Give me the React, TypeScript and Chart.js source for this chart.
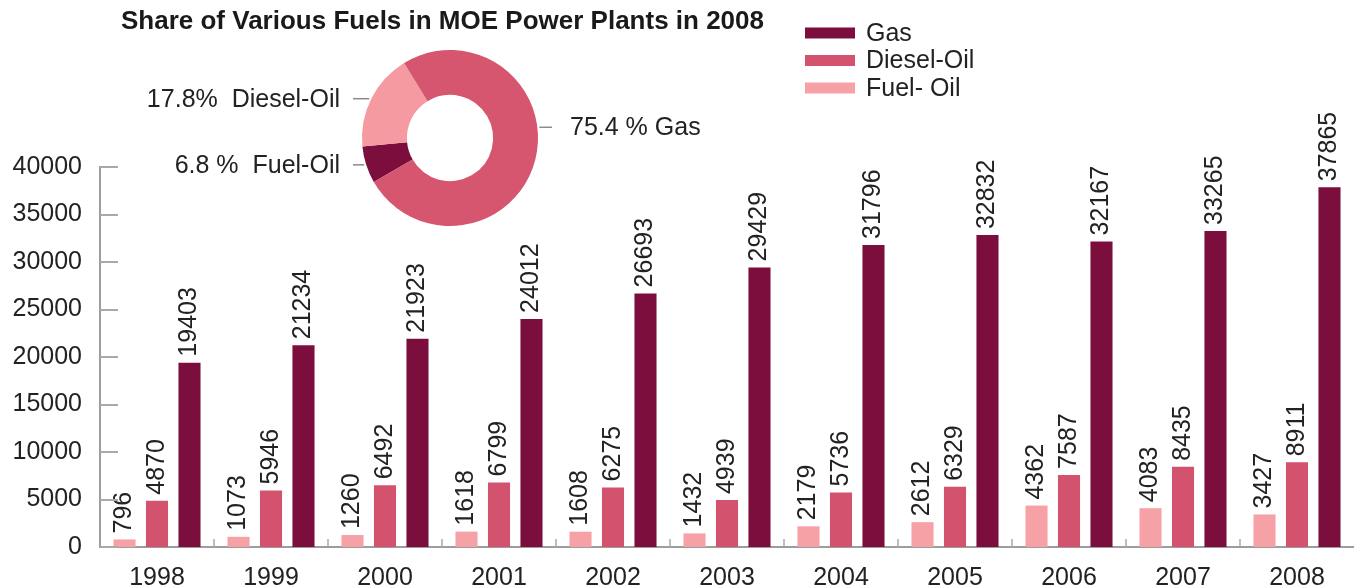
import React, { useEffect, useRef } from 'react';
import { Chart, registerables } from 'chart.js';

Chart.register(...registerables);

// ---------- data ----------
const years = ['1998', '1999', '2000', '2001', '2002', '2003', '2004', '2005', '2006', '2007', '2008'];
const fuelOil = [796, 1073, 1260, 1618, 1608, 1432, 2179, 2612, 4362, 4083, 3427];
const dieselOil = [4870, 5946, 6492, 6799, 6275, 4939, 5736, 6329, 7587, 8435, 8911];
const gas = [19403, 21234, 21923, 24012, 26693, 29429, 31796, 32832, 32167, 33265, 37865];
const seriesNames = ['Fuel- Oil', 'Diesel-Oil', 'Gas'];
const yMin = 0;
const yMax = 40000;
const yStep = 5000;

const pieTitle = 'Share of Various Fuels in MOE Power Plants in 2008';
const pieNames = ['Fuel-Oil', 'Diesel-Oil', 'Gas'];
const pieShares = [6.8, 17.8, 75.4];
const pieLabels = ['6.8 %  Fuel-Oil', '17.8%  Diesel-Oil', '75.4 % Gas'];

// ---------- styles ----------
const FONT = '"Liberation Sans", Arial, Helvetica, sans-serif';
const TEXT = '#222222';
const GAS_C = '#7c0e3e';
const DIESEL_C = '#d3526d';
const FUEL_C = '#f5a1a6';
const PIE_COLORS = ['#7c0e3e', '#f59aa0', '#d6566f'];
const W = 1354;
const H = 587;

const innerTicks = {
  id: 'innerTicks',
  afterDraw(chart: any) {
    const { ctx, chartArea, scales } = chart;
    const xs = scales.x;
    const ys = scales.y;
    ctx.save();
    ctx.strokeStyle = '#a9a9a9';
    ctx.lineWidth = 2;
    ys.ticks.forEach((t: any) => {
      const py = Math.round(ys.getPixelForValue(t.value));
      ctx.beginPath();
      ctx.moveTo(chartArea.left, py);
      ctx.lineTo(chartArea.left + 18, py);
      ctx.stroke();
    });
    const n = xs.ticks.length;
    const bounds: number[] = [];
    for (let i = 1; i < n; i++) {
      bounds.push((xs.getPixelForValue(i - 1) + xs.getPixelForValue(i)) / 2);
    }
    ctx.lineWidth = 1.5;
    bounds.forEach((px) => {
      ctx.beginPath();
      ctx.moveTo(Math.round(px), chartArea.bottom);
      ctx.lineTo(Math.round(px), chartArea.bottom - 8);
      ctx.stroke();
    });
    ctx.restore();
  },
};

const valueLabels = {
  id: 'valueLabels',
  afterDatasetsDraw(chart: any) {
    const { ctx } = chart;
    ctx.save();
    ctx.font = `25px ${FONT}`;
    ctx.fillStyle = TEXT;
    ctx.textAlign = 'left';
    ctx.textBaseline = 'middle';
    chart.data.datasets.forEach((ds: any, di: number) => {
      const meta = chart.getDatasetMeta(di);
      meta.data.forEach((el: any, i: number) => {
        ctx.save();
        ctx.translate(el.x, el.y - 6);
        ctx.rotate(-Math.PI / 2);
        ctx.fillText(String(ds.data[i]), 0, 0);
        ctx.restore();
      });
    });
    ctx.restore();
  },
};

const sideLegend = {
  id: 'sideLegend',
  afterDraw(chart: any) {
    const { ctx } = chart;
    const dsets = chart.data.datasets;
    ctx.save();
    ctx.font = `25px ${FONT}`;
    ctx.textAlign = 'left';
    ctx.textBaseline = 'middle';
    for (let r = 0; r < dsets.length; r++) {
      const ds = dsets[dsets.length - 1 - r];
      const cy = 33 + r * 27.5;
      ctx.fillStyle = ds.backgroundColor;
      ctx.fillRect(805, cy - 5.5, 50, 11);
      ctx.fillStyle = TEXT;
      ctx.fillText(ds.label, 866, cy + 1);
    }
    ctx.restore();
  },
};

const pieDecor = {
  id: 'pieDecor',
  afterDraw(chart: any) {
    const { ctx } = chart;
    const meta = chart.getDatasetMeta(0);
    const anchorOverride: (number | null)[] = [null, null, -7];
    ctx.save();
    ctx.font = `bold 26px ${FONT}`;
    ctx.fillStyle = '#1a1a1a';
    ctx.textAlign = 'left';
    ctx.textBaseline = 'middle';
    ctx.fillText(pieTitle, 121, 22);

    ctx.font = `25px ${FONT}`;
    ctx.fillStyle = TEXT;
    ctx.strokeStyle = '#8a8a8a';
    ctx.lineWidth = 1.5;
    meta.data.forEach((arc: any, i: number) => {
      const ov = anchorOverride[i];
      const ang = ov === null ? (arc.startAngle + arc.endAngle) / 2 : (ov * Math.PI) / 180;
      const ax = arc.x + Math.cos(ang) * arc.outerRadius;
      const ay = arc.y + Math.sin(ang) * arc.outerRadius;
      const right = Math.cos(ang) > 0;
      ctx.beginPath();
      if (right) {
        ctx.moveTo(ax + 2, ay);
        ctx.lineTo(arc.x + 102, ay);
      } else {
        ctx.moveTo(ax - 2, ay);
        ctx.lineTo(arc.x - 97, ay);
      }
      ctx.stroke();
      ctx.textAlign = right ? 'left' : 'right';
      ctx.fillText(pieLabels[i], right ? arc.x + 120 : arc.x - 110, ay + 1);
    });
    ctx.restore();
  },
};

export default function App() {
  const barRef = useRef<HTMLCanvasElement>(null);
  const pieRef = useRef<HTMLCanvasElement>(null);

  useEffect(() => {
    const bar = new Chart(barRef.current as HTMLCanvasElement, {
      type: 'bar',
      data: {
        labels: years,
        datasets: [
          { label: seriesNames[0], data: fuelOil, backgroundColor: FUEL_C },
          { label: seriesNames[1], data: dieselOil, backgroundColor: DIESEL_C },
          { label: seriesNames[2], data: gas, backgroundColor: GAS_C },
        ],
      },
      options: {
        animation: false,
        responsive: false,
        devicePixelRatio: 1,
        layout: { padding: { top: 167, right: 0, left: 0, bottom: 0 } },
        datasets: { bar: { categoryPercentage: 0.855, barPercentage: 0.68 } },
        plugins: { legend: { display: false }, tooltip: { enabled: false }, title: { display: false } },
        scales: {
          x: {
            grid: { display: false, drawTicks: false },
            border: { display: true, color: '#9d9d9d', width: 2 },
            ticks: { font: { family: FONT, size: 25 }, color: TEXT, padding: 16, maxRotation: 0 },
            afterFit: (s: any) => { s.height = 40; },
          },
          y: {
            min: yMin,
            max: yMax,
            grid: { display: false, drawTicks: false },
            border: { display: true, color: '#9d9d9d', width: 2 },
            ticks: {
              stepSize: yStep,
              font: { family: FONT, size: 25 },
              color: TEXT,
              padding: 18,
              callback: (v: any) => String(v),
            },
            afterFit: (s: any) => { s.width = 100; },
          },
        },
      } as any,
      plugins: [innerTicks, valueLabels, sideLegend],
    });

    const pie = new Chart(pieRef.current as HTMLCanvasElement, {
      type: 'doughnut',
      data: {
        labels: pieNames,
        datasets: [{ data: pieShares, backgroundColor: PIE_COLORS, borderWidth: 0 }],
      },
      options: {
        animation: false,
        responsive: false,
        devicePixelRatio: 1,
        rotation: 240,
        cutout: '49%',
        layout: { padding: { left: 362, right: W - 538, top: 50, bottom: H - 226 } },
        plugins: { legend: { display: false }, tooltip: { enabled: false } },
      } as any,
      plugins: [pieDecor],
    });

    return () => {
      bar.destroy();
      pie.destroy();
    };
  }, []);

  return (
    <div style={{ position: 'absolute', left: 0, top: 0, width: W, height: H, background: '#fff' }}>
      <canvas ref={barRef} width={W} height={H} style={{ position: 'absolute', left: 0, top: 0 }} />
      <canvas ref={pieRef} width={W} height={H} style={{ position: 'absolute', left: 0, top: 0, pointerEvents: 'none' }} />
    </div>
  );
}
